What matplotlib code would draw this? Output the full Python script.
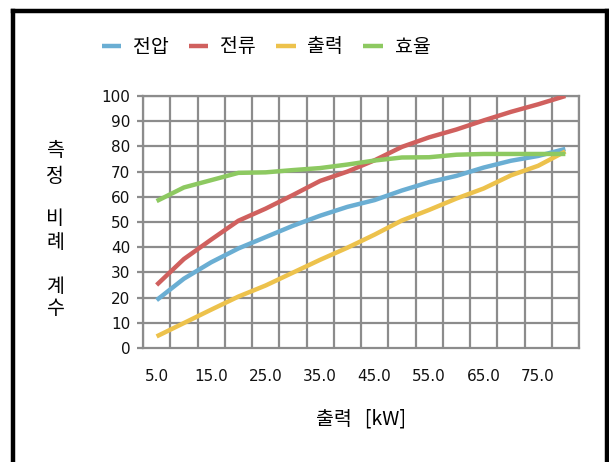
import matplotlib
matplotlib.use("Agg")
import matplotlib.pyplot as plt

plt.rcParams['font.family'] = ['Noto Sans CJK KR', 'DejaVu Sans']

# output power categories [kW]
power_kw = [5, 10, 15, 20, 25, 30, 35, 40, 45, 50, 55, 60, 65, 70, 75, 80]
tick_kw = [5, 15, 25, 35, 45, 55, 65, 75]

voltage = [19, 27.5, 34, 39.5, 44, 48.5, 52.5, 56, 58.7, 62.5, 65.8, 68.3, 71.6, 74.3, 76.2, 79]
current = [25, 35.3, 43, 50.5, 55.3, 60.7, 66.3, 70, 74.5, 79.8, 83.6, 86.7, 90.3, 93.7, 96.7, 100]
output = [4.6, 9.9, 15.2, 20.4, 24.8, 29.9, 35, 39.8, 45, 50.6, 54.8, 59.3, 63.3, 68.5, 72.3, 78]
efficiency = [58.3, 63.7, 66.6, 69.5, 69.7, 70.6, 71.4, 72.8, 74.4, 75.6, 75.7, 76.7, 77, 77, 77, 77]

series = [("전압", voltage, "#6aaed3"),
          ("전류", current, "#d0605e"),
          ("출력", output, "#edc24c"),
          ("효율", efficiency, "#8dc961")]

W, H = 609, 462
fig = plt.figure(figsize=(W / 100, H / 100), dpi=100)

# outer frame (open at the bottom)
frame_kw = dict(color="black", lw=3.2, solid_capstyle="projecting")
fig.add_artist(plt.Line2D([12.5 / W, 12.5 / W], [1 - 10.5 / H, -0.05], transform=fig.transFigure, **frame_kw))
fig.add_artist(plt.Line2D([12.5 / W, 606.5 / W], [1 - 10.5 / H, 1 - 10.5 / H], transform=fig.transFigure, **frame_kw))
fig.add_artist(plt.Line2D([606.5 / W, 606.5 / W], [1 - 10.5 / H, -0.05], transform=fig.transFigure, **frame_kw))

left, right, top, bottom = 143, 579, 96, 348
ax = fig.add_axes([left / W, 1 - bottom / H, (right - left) / W, (bottom - top) / H])

grid_c = "#8c8c8c"
for name, vals, col in series:
    ax.plot(power_kw, vals, color=col, lw=3.2, label=name, solid_capstyle="butt",
            solid_joinstyle="round", zorder=3)

ax.set_xlim(2.5, 82.5)
ax.set_ylim(0, 100)
ax.set_yticks(range(0, 101, 10))
ax.set_xticks(tick_kw)
ax.set_xticklabels([f"{v:.1f}" for v in tick_kw])

for k in range(17):
    ax.axvline(2.5 + 5 * k, color=grid_c, lw=1.6, zorder=1)
for v in range(10, 101, 10):
    ax.axhline(v, color=grid_c, lw=1.6, zorder=1)

for s in ax.spines.values():
    s.set_color(grid_c)
    s.set_linewidth(1.6)

ax.tick_params(axis="y", length=4, width=1.6, color=grid_c, pad=5, labelcolor="black")
ax.tick_params(axis="x", length=0, pad=15, labelcolor="black")
for lab in ax.get_xticklabels() + ax.get_yticklabels():
    lab.set_fontfamily("DejaVu Sans")
    lab.set_fontsize(11)
    lab.set_color("#111111")

ax.set_xlabel("출력   [kW]", fontsize=14, labelpad=18)

# vertical stacked y-axis title
ychars = [("측", 151), ("정", 176), ("비", 218), ("례", 243), ("계", 286), ("수", 309)]
for ch, yp in ychars:
    fig.text(55 / W, 1 - yp / H, ch, fontsize=14, ha="center", va="center")

fig.legend(loc="center", bbox_to_anchor=(266 / W, 1 - 47 / H), ncol=4, frameon=False,
           fontsize=14, handlelength=1.0, handletextpad=0.6, columnspacing=1.05,
           handleheight=0.7)

fig.savefig("out.png", dpi=100)
